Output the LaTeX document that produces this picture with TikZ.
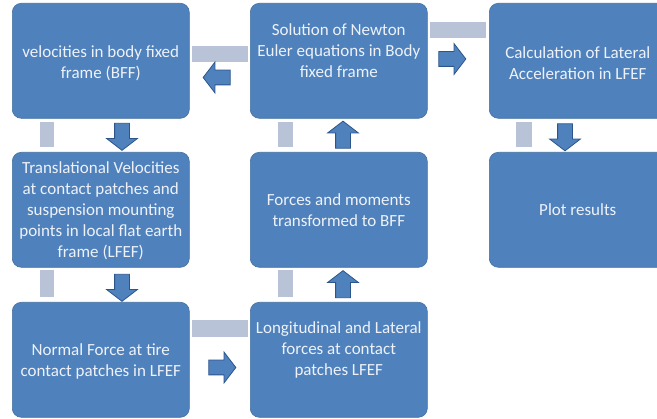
\documentclass[tikz,border=0pt]{standalone}
\usepackage{fontspec}
\setmainfont{Carlito}
\usetikzlibrary{shapes.arrows}
\definecolor{boxblue}{HTML}{4F81BD}
\definecolor{boxedge}{HTML}{43709F}
\definecolor{bargrey}{HTML}{B9C3D8}
\definecolor{arrowedge}{HTML}{2C558C}
\definecolor{txtwhite}{HTML}{EEF2F8}
\tikzset{
  box/.style={draw=boxedge, line width=0.6pt, fill=boxblue, rounded corners=9pt,
    minimum width=177pt, minimum height=115pt, inner sep=0pt, anchor=north west},
  txt/.style={text=txtwhite, align=center, inner sep=0pt,
    font=\fontsize{17}{21}\selectfont},
  bar/.style={fill=bargrey, inner sep=0pt, anchor=north west},
  blockarrow/.style={single arrow, draw=arrowedge, line width=0.8pt, fill=boxblue,
    inner xsep=0pt, inner ysep=7pt, minimum width=0pt, minimum height=27pt,
    single arrow head extend=8pt, single arrow tip angle=105}
}
\begin{document}
\begin{tikzpicture}[x=1pt,y=-1pt]
\useasboundingbox (0,0) rectangle (657,419);
\fill[white] (0,0) rectangle (657,419);
% grey bars
\node[bar, minimum width=56pt, minimum height=16pt] (g12) at (192,46) {};
\node[bar, minimum width=56pt, minimum height=16pt] (g23) at (430,22) {};
\node[bar, minimum width=14pt, minimum height=25pt] (g14) at (40,122) {};
\node[bar, minimum width=15pt, minimum height=25pt] (g25) at (278,122) {};
\node[bar, minimum width=16pt, minimum height=25pt] (g36) at (516,122) {};
\node[bar, minimum width=14pt, minimum height=27pt] (g47) at (40,270) {};
\node[bar, minimum width=15pt, minimum height=27pt] (g58) at (278,270) {};
\node[bar, minimum width=56pt, minimum height=17pt] (g78) at (192,320) {};
% boxes
\node[box] (b1) at (12,3) {};
\node[box] (b2) at (250,3) {};
\node[box] (b3) at (489,3) {};
\node[box] (b4) at (12,152) {};
\node[box] (b5) at (250,152) {};
\node[box] (b6) at (489,152) {};
\node[box] (b7) at (12,302) {};
\node[box] (b8) at (250,302) {};
% texts
\node[txt] (t1) at ([yshift=-2pt]b1.center) {velocities in body fixed\\frame (BFF)};
\node[txt] (t2) at ([yshift=10pt]b2.center) {Solution of Newton\\Euler equations in Body\\fixed frame};
\node[txt] (t3) at ([yshift=-2pt]b3.center) {Calculation of Lateral\\Acceleration in LFEF};
\node[txt] (t4) at ([yshift=-1pt]b4.center) {Translational Velocities\\at contact patches and\\suspension mounting\\points in local flat earth\\frame (LFEF)};
\node[txt] (t5) at (b5.center) {Forces and moments\\transformed to BFF};
\node[txt] (t6) at (b6.center) {Plot results};
\node[txt] (t7) at ([yshift=-2pt]b7.center) {Normal Force at tire\\contact patches in LFEF};
\node[txt] (t8) at ([yshift=10pt]b8.center) {Longitudinal and Lateral\\forces at contact\\patches LFEF};
% block arrows
\node[blockarrow, rotate=180] (a21) at (219.5,77.5) {};
\node[blockarrow] (a23) at (449.5,59) {};
\node[blockarrow, rotate=270] (a14) at (122,134) {};
\node[blockarrow, rotate=90] (a52) at (343,137.5) {};
\node[blockarrow, rotate=270] (a36) at (565,134.5) {};
\node[blockarrow, rotate=270] (a47) at (122,285) {};
\node[blockarrow, rotate=90] (a85) at (343,287) {};
\node[blockarrow] (a78) at (219.5,367.5) {};
\end{tikzpicture}
\end{document}
